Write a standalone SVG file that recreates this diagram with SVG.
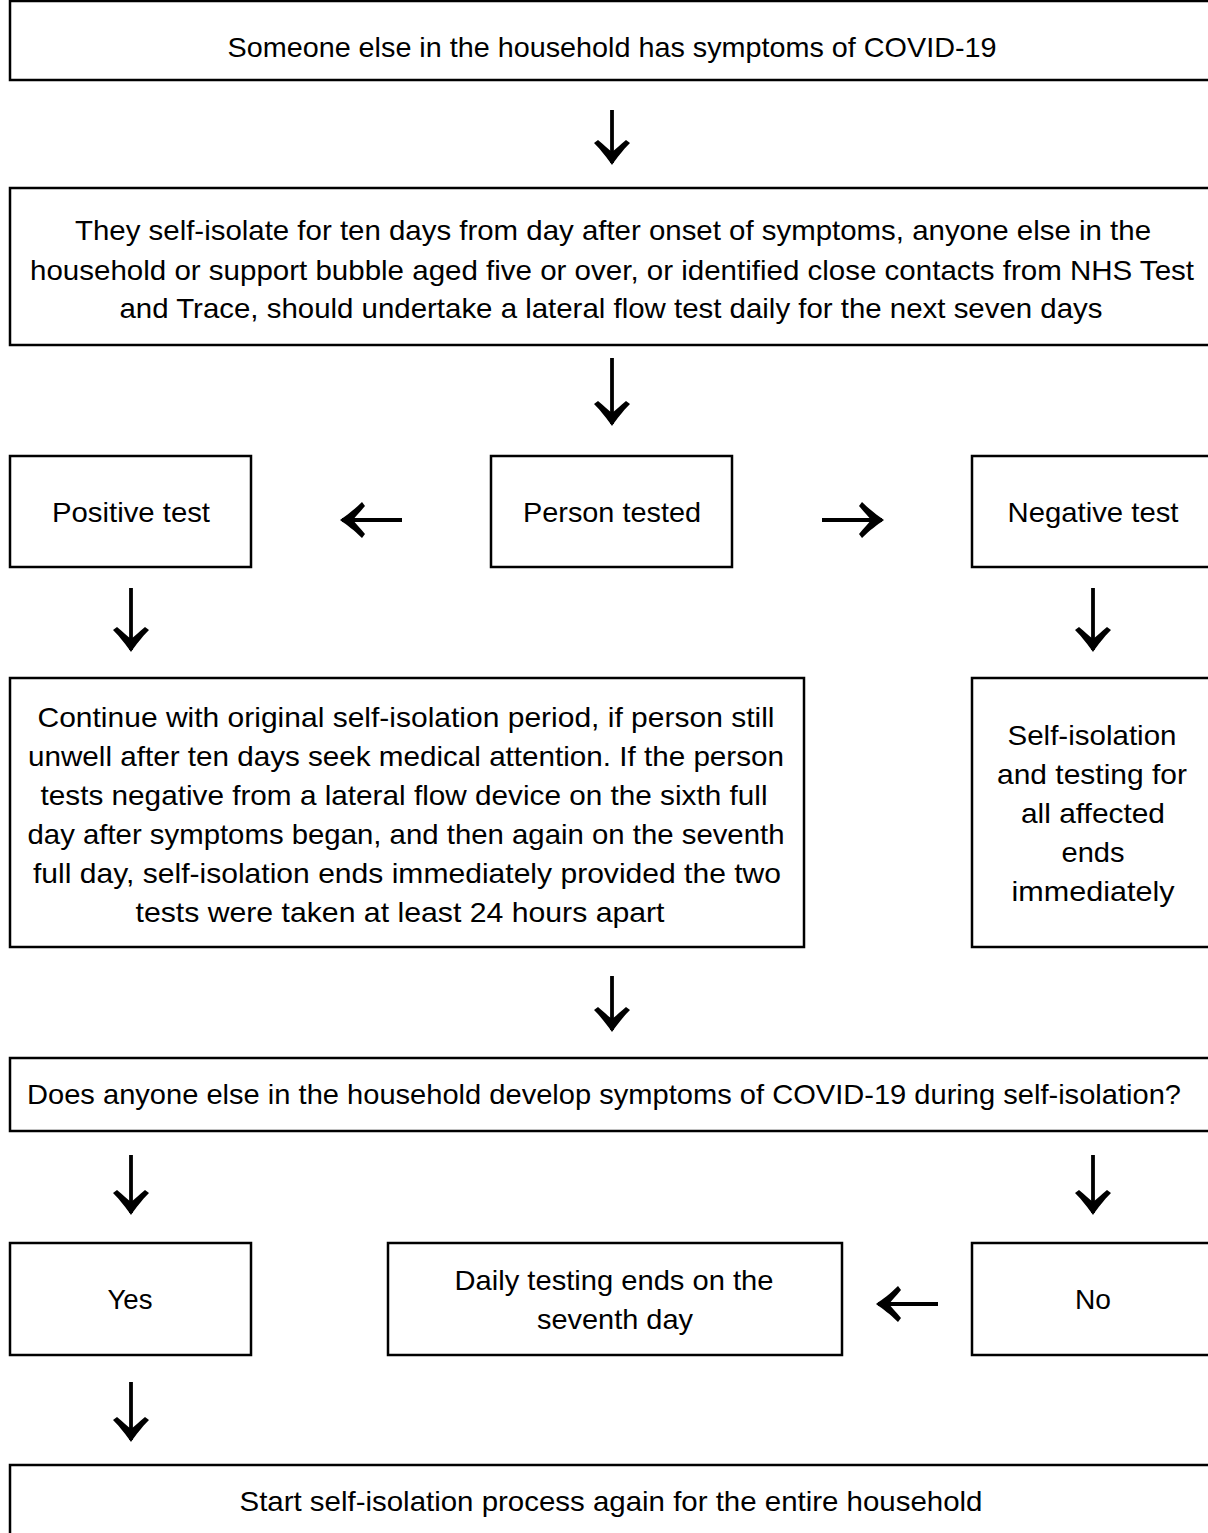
<svg xmlns="http://www.w3.org/2000/svg" width="1208" height="1533" viewBox="0 0 1208 1533">
<style>
.box{fill:#fff;stroke:#000;stroke-width:2.5}
.t{font-family:"Liberation Sans",Arial,sans-serif;font-size:28px;fill:#000;text-anchor:middle;dominant-baseline:central}
.c{stroke:#000;stroke-width:3.8;fill:none;marker-end:url(#ah)}
</style>
<defs>
<marker id="ah" markerUnits="userSpaceOnUse" markerWidth="40" markerHeight="40" refX="0" refY="0" viewBox="-25 -20 30 40" orient="auto" overflow="visible">
<path d="M2,0 C-5,-5 -12,-10 -20,-18 L-23,-14 C-18,-8 -14,-4 -11,0 C-14,4 -18,8 -23,14 L-20,18 C-12,10 -5,5 2,0 Z" fill="#000"/>
</marker>
</defs>
<rect width="1208" height="1533" fill="#fff"/>
<g id="connectors">
<line class="c" x1="612" y1="110" x2="612" y2="163"/>
<line class="c" x1="612" y1="358" x2="612" y2="424"/>
<line class="c" x1="402" y1="520" x2="342" y2="520"/>
<line class="c" x1="822" y1="520" x2="882" y2="520"/>
<line class="c" x1="131" y1="588" x2="131" y2="650"/>
<line class="c" x1="1093" y1="588" x2="1093" y2="650"/>
<line class="c" x1="612" y1="976" x2="612" y2="1030"/>
<line class="c" x1="131" y1="1155" x2="131" y2="1213"/>
<line class="c" x1="1093" y1="1155" x2="1093" y2="1213"/>
<line class="c" x1="938" y1="1304" x2="878" y2="1304"/>
<line class="c" x1="131" y1="1382" x2="131" y2="1440"/>
</g>
<g id="n1"><rect class="box" x="10" y="1" width="1215" height="79"/>
<text class="t" x="612" y="47" textLength="769" lengthAdjust="spacingAndGlyphs">Someone else in the household has symptoms of COVID-19</text></g>
<g id="n2"><rect class="box" x="10" y="188" width="1215" height="157"/>
<text class="t" x="613" y="230" textLength="1076" lengthAdjust="spacingAndGlyphs">They self-isolate for ten days from day after onset of symptoms, anyone else in the</text>
<text class="t" x="612" y="270" textLength="1164" lengthAdjust="spacingAndGlyphs">household or support bubble aged five or over, or identified close contacts from NHS Test</text>
<text class="t" x="611" y="308" textLength="983" lengthAdjust="spacingAndGlyphs">and Trace, should undertake a lateral flow test daily for the next seven days</text></g>
<g id="n3"><rect class="box" x="10" y="456" width="241" height="111"/>
<text class="t" x="131" y="512" textLength="158" lengthAdjust="spacingAndGlyphs">Positive test</text></g>
<g id="n4"><rect class="box" x="491" y="456" width="241" height="111"/>
<text class="t" x="612" y="512" textLength="178" lengthAdjust="spacingAndGlyphs">Person tested</text></g>
<g id="n5"><rect class="box" x="972" y="456" width="253" height="111"/>
<text class="t" x="1093" y="512" textLength="171" lengthAdjust="spacingAndGlyphs">Negative test</text></g>
<g id="n6"><rect class="box" x="10" y="678" width="794" height="269"/>
<text class="t" x="406" y="717" textLength="737" lengthAdjust="spacingAndGlyphs">Continue with original self-isolation period, if person still</text>
<text class="t" x="406" y="756" textLength="756" lengthAdjust="spacingAndGlyphs">unwell after ten days seek medical attention. If the person</text>
<text class="t" x="404" y="795" textLength="727" lengthAdjust="spacingAndGlyphs">tests negative from a lateral flow device on the sixth full</text>
<text class="t" x="406" y="834" textLength="757" lengthAdjust="spacingAndGlyphs">day after symptoms began, and then again on the seventh</text>
<text class="t" x="407" y="873" textLength="748" lengthAdjust="spacingAndGlyphs">full day, self-isolation ends immediately provided the two</text>
<text class="t" x="400" y="912" textLength="529" lengthAdjust="spacingAndGlyphs">tests were taken at least 24 hours apart</text></g>
<g id="n7"><rect class="box" x="972" y="678" width="253" height="269"/>
<text class="t" x="1092" y="735" textLength="169" lengthAdjust="spacingAndGlyphs">Self-isolation</text>
<text class="t" x="1092" y="774" textLength="190" lengthAdjust="spacingAndGlyphs">and testing for</text>
<text class="t" x="1093" y="813" textLength="144" lengthAdjust="spacingAndGlyphs">all affected</text>
<text class="t" x="1093" y="852" textLength="63" lengthAdjust="spacingAndGlyphs">ends</text>
<text class="t" x="1093" y="891" textLength="163" lengthAdjust="spacingAndGlyphs">immediately</text></g>
<g id="n8"><rect class="box" x="10" y="1058" width="1215" height="73"/>
<text class="t" x="604" y="1094" textLength="1154" lengthAdjust="spacingAndGlyphs">Does anyone else in the household develop symptoms of COVID-19 during self-isolation?</text></g>
<g id="n9"><rect class="box" x="10" y="1243" width="241" height="112"/>
<text class="t" x="130" y="1299" textLength="45" lengthAdjust="spacingAndGlyphs">Yes</text></g>
<g id="n10"><rect class="box" x="388" y="1243" width="454" height="112"/>
<text class="t" x="614" y="1280" textLength="319" lengthAdjust="spacingAndGlyphs">Daily testing ends on the</text>
<text class="t" x="615" y="1319" textLength="156" lengthAdjust="spacingAndGlyphs">seventh day</text></g>
<g id="n11"><rect class="box" x="972" y="1243" width="253" height="112"/>
<text class="t" x="1093" y="1299" textLength="36" lengthAdjust="spacingAndGlyphs">No</text></g>
<g id="n12"><rect class="box" x="10" y="1465" width="1215" height="80"/>
<text class="t" x="611" y="1501" textLength="743" lengthAdjust="spacingAndGlyphs">Start self-isolation process again for the entire household</text></g>
</svg>
